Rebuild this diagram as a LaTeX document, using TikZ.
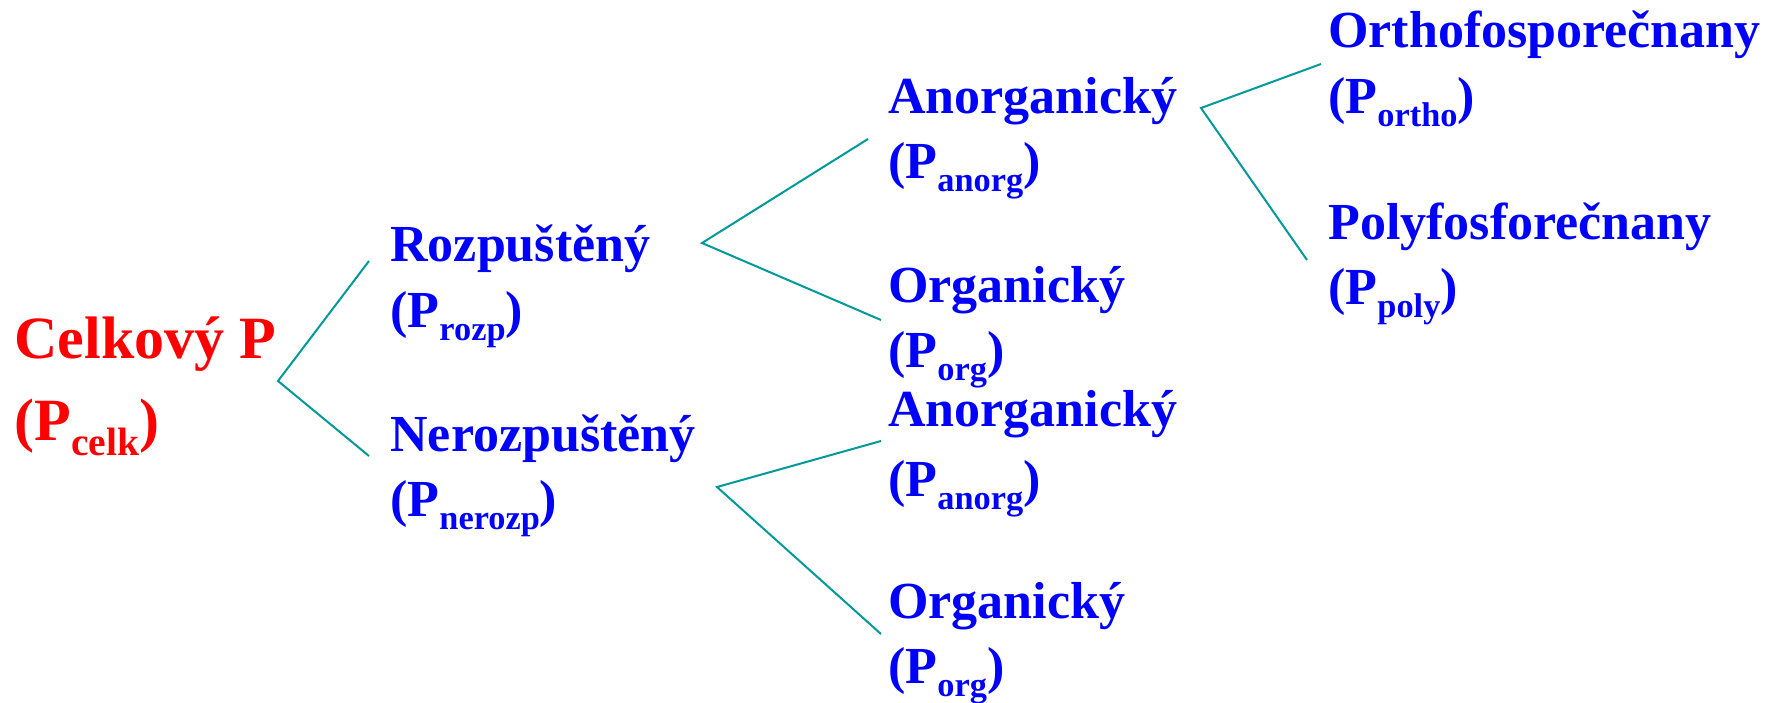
\documentclass[tikz,border=0pt]{standalone}
\usepackage{fontspec}
\setmainfont{Liberation Serif}
\definecolor{PRed}{HTML}{FF0000}
\definecolor{PBlue}{HTML}{0000FF}
\definecolor{PTeal}{HTML}{009999}
\newcommand{\Pidx}[1]{(P\raisebox{-0.25em}{\scalebox{0.66}{#1}})}
\begin{document}
\begin{tikzpicture}[x=0.5pt,y=-0.5pt,
    lbl/.style={anchor=base west,inner sep=0pt,font=\bfseries\fontsize{26}{26}\selectfont,text=PBlue},
    root/.style={lbl,font=\bfseries\fontsize{30}{30}\selectfont,text=PRed},
    branch/.style={PTeal,line width=1pt}]
    \useasboundingbox (0,0) rectangle (1767,702);
    % level 0
    \node[root] (celk) at (14,358) {Celkový P};
    \node[root] (celkP) at (14,440) {\Pidx{celk}};
    % level 1
    \node[lbl] (rozp) at (390,261) {Rozpuštěný};
    \node[lbl] (rozpP) at (390,327) {\Pidx{rozp}};
    \node[lbl] (nerozp) at (390,451) {Nerozpuštěný};
    \node[lbl] (nerozpP) at (390,516) {\Pidx{nerozp}};
    % level 2
    \node[lbl] (anorgA) at (888,113) {Anorganický};
    \node[lbl] (anorgAP) at (888,178) {\Pidx{anorg}};
    \node[lbl] (orgA) at (888,302) {Organický};
    \node[lbl] (orgAP) at (888,367) {\Pidx{org}};
    \node[lbl] (anorgB) at (888,426) {Anorganický};
    \node[lbl] (anorgBP) at (888,496) {\Pidx{anorg}};
    \node[lbl] (orgB) at (888,618) {Organický};
    \node[lbl] (orgBP) at (888,683) {\Pidx{org}};
    % level 3
    \node[lbl] (ortho) at (1328,47) {Orthofosporečnany};
    \node[lbl] (orthoP) at (1328,113) {\Pidx{ortho}};
    \node[lbl] (poly) at (1328,239) {Polyfosforečnany};
    \node[lbl] (polyP) at (1328,304) {\Pidx{poly}};
    % branch points and line ends
    \coordinate (kCelk) at (278,381);
    \coordinate (kRozp) at (702,243);
    \coordinate (kNerozp) at (717,487);
    \coordinate (kAnorg) at (1201,108);
    \coordinate (eRozp) at (369,261);
    \coordinate (eNerozp) at (369,456);
    \coordinate (eAnorgA) at (868,139);
    \coordinate (eOrgA) at (881,320);
    \coordinate (eAnorgB) at (881,441);
    \coordinate (eOrgB) at (881,634);
    \coordinate (eOrtho) at (1321,64);
    \coordinate (ePoly) at (1307,260);
    \draw[branch] (eRozp) -- (kCelk) -- (eNerozp);
    \draw[branch] (eAnorgA) -- (kRozp) -- (eOrgA);
    \draw[branch] (eAnorgB) -- (kNerozp) -- (eOrgB);
    \draw[branch] (eOrtho) -- (kAnorg) -- (ePoly);
\end{tikzpicture}
\end{document}
